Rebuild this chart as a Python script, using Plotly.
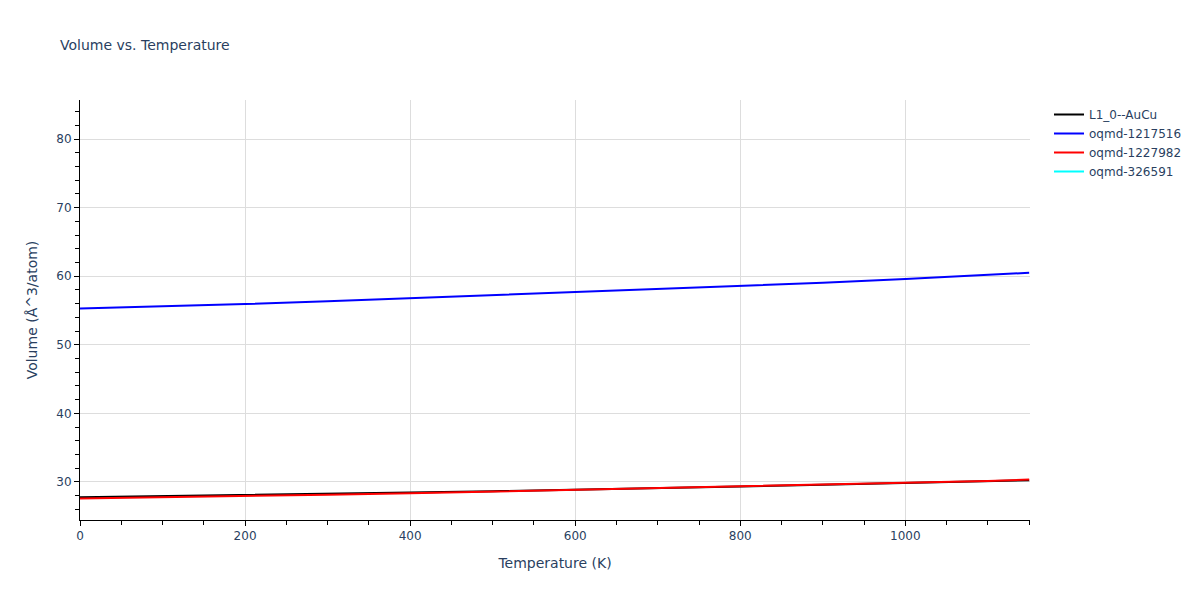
import plotly.graph_objects as go

temps = [0, 100, 200, 300, 400, 500, 600, 700, 800, 900, 1000, 1100, 1150]

vol_l10_aucu = [27.75, 27.9, 28.1, 28.25, 28.45, 28.65, 28.85, 29.1, 29.35, 29.6, 29.85, 30.1, 30.25]
vol_1217516 = [55.3, 55.6, 55.95, 56.35, 56.8, 57.2, 57.65, 58.1, 58.55, 59.05, 59.6, 60.2, 60.5]
vol_1227982 = [27.6, 27.75, 27.95, 28.15, 28.35, 28.6, 28.8, 29.05, 29.3, 29.55, 29.85, 30.15, 30.35]
# single point only -> no visible line segment, but it still gets a legend entry
temps_326591 = [0]
vol_326591 = [82.6]

series = [
    ('L1_0--AuCu', temps, vol_l10_aucu, 'black'),
    ('oqmd-1217516', temps, vol_1217516, 'blue'),
    ('oqmd-1227982', temps, vol_1227982, 'red'),
    ('oqmd-326591', temps_326591, vol_326591, 'cyan'),
]

fig = go.Figure()
for name, x, y, color in series:
    fig.add_trace(go.Scatter(x=x, y=y, mode='lines', name=name,
                             line=dict(color=color, width=2)))

axis_style = dict(
    showline=True,
    linecolor='black',
    linewidth=1,
    ticks='outside',
    tickcolor='black',
    showgrid=True,
    gridcolor='#dddddd',
    zeroline=False,
)

# page body has an 8px margin, so margins are pulled in by 8px to line up
fig.update_layout(
    template='plotly_white',
    width=1200,
    height=600,
    font=dict(family='Verdana, DejaVu Sans, sans-serif'),
    title=dict(text='Volume vs. Temperature', font=dict(size=14),
               x=52 / 1200, xanchor='left', y=1 - 37 / 600, yanchor='middle'),
    xaxis=dict(title='Temperature (K)', range=[0, 1151], dtick=200,
               minor=dict(ticks='outside', dtick=50, ticklen=4, tickcolor='black'),
               **axis_style),
    yaxis=dict(title='Volume (Å^3/atom)', range=[24.45, 85.7], dtick=10,
               minor=dict(ticks='outside', dtick=2, ticklen=4, tickcolor='black'),
               **axis_style),
    margin=dict(l=72, r=178, t=92, b=88),
)

fig.write_html('out.html')
